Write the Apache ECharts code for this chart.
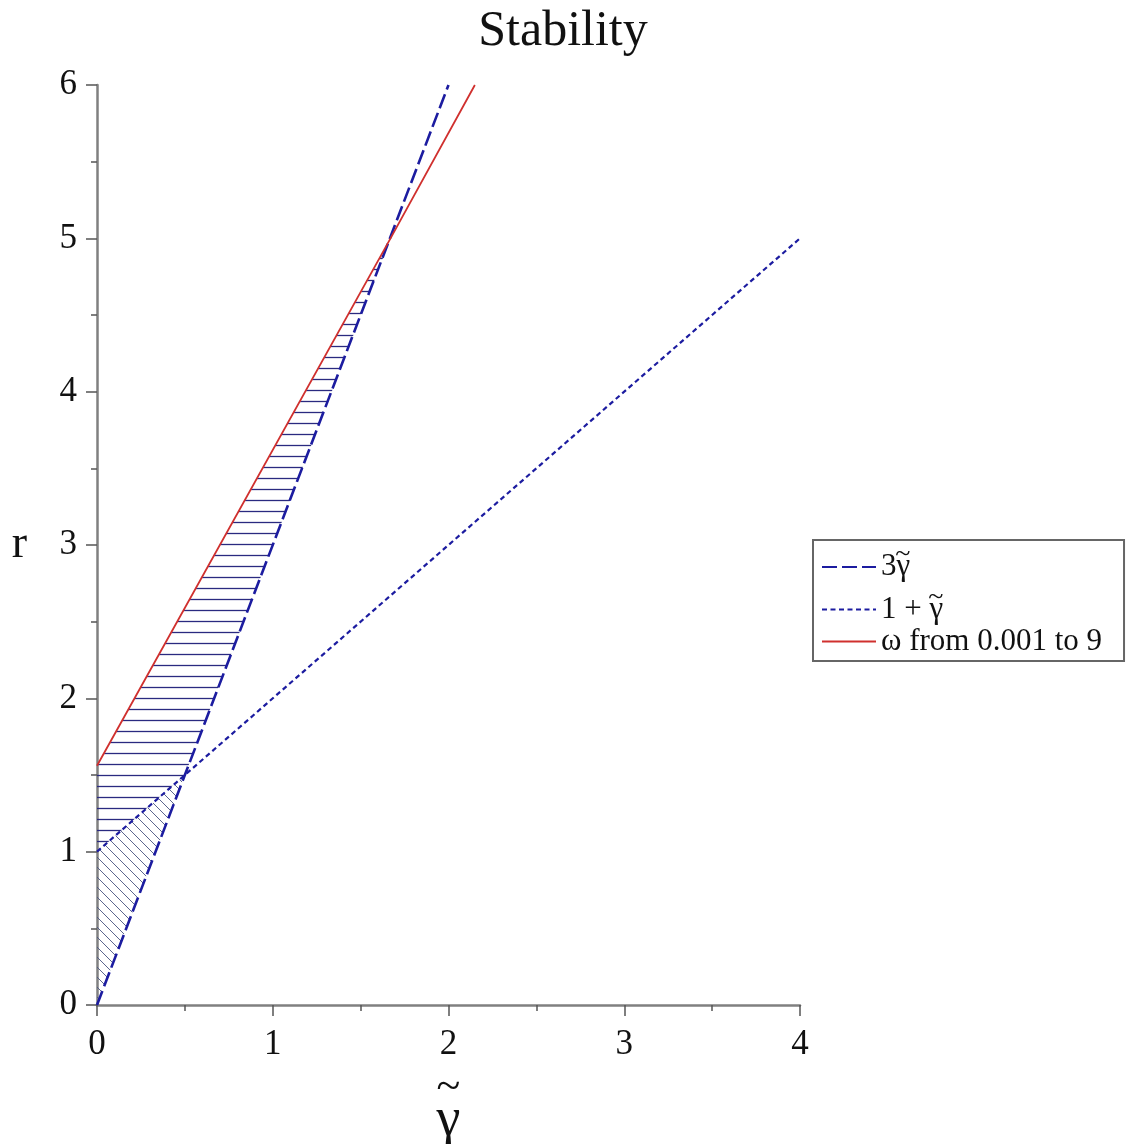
<!DOCTYPE html>
<html>
<head>
<meta charset="utf-8">
<script src="https://cdn.jsdelivr.net/npm/echarts@6/dist/echarts.min.js"></script>
<style>
  html, body { margin: 0; padding: 0; background: #fff; }
  #main { width: 1126px; height: 1144px; }
</style>
</head>
<body>
<div id="main"></div>
<script>
// curves (gamma, r)
const lineThreeGamma = [[0, 0], [2.0, 6.0]];
const lineOnePlusGamma = [[0, 1], [4, 5]];
const lineOmega = [[0, 1.56], [1.67, 5.0], [2.15, 6.0]];

// hatched regions
const regionHoriz = [[0, 1], [0, 1.56], [1.67, 5.0], [0.5, 1.5]];
const regionDiag = [[0, 0], [0, 1], [0.5, 1.5]];

const xTicks = [0, 1, 2, 3, 4];
const yTicks = [0, 1, 2, 3, 4, 5, 6];
const seriesNames = ['3γ', '1 + γ', 'ω from 0.001 to 9'];

const serif = "'Liberation Serif', 'DejaVu Serif', serif";

function makeHatch(kind) {
  const c = document.createElement('canvas');
  const ctx = c.getContext('2d');
  if (kind === 'h') {
    c.width = 8; c.height = 11;
    ctx.strokeStyle = '#2a2a80';
    ctx.lineWidth = 1.3;
    ctx.beginPath();
    ctx.moveTo(0, 5.5); ctx.lineTo(8, 5.5);
    ctx.stroke();
  } else {
    const s = 10;
    c.width = s; c.height = s;
    ctx.strokeStyle = '#4a5580';
    ctx.lineWidth = 0.9;
    ctx.beginPath();
    for (const o of [-s, 0, s]) {
      ctx.moveTo(o - 1, -1); ctx.lineTo(o + s + 1, s + 1);
    }
    ctx.stroke();
  }
  return c;
}

const hatchH = makeHatch('h');
const hatchD = makeHatch('d');

function regionSeries(name, pts, pattern) {
  return {
    name: name,
    type: 'custom',
    silent: true,
    z: 1,
    data: [0],
    renderItem: function (params, api) {
      return {
        type: 'polygon',
        shape: { points: pts.map(p => api.coord(p)) },
        style: { fill: { image: pattern, repeat: 'repeat' }, stroke: null }
      };
    }
  };
}

// tilde token pulled back over the gamma (negative padding) and raised
function legendLabel(name) {
  if (name === seriesNames[2]) return '{m|' + name + '}';
  return '{m|' + name + '}{t|~}';
}

const chart = echarts.init(document.getElementById('main'));

chart.setOption({
  animation: false,
  backgroundColor: '#fff',
  title: {
    text: 'Stability',
    left: 'center',
    top: 2,
    textStyle: { fontFamily: serif, fontSize: 50, fontWeight: 'normal', color: '#111' }
  },
  legend: {
    orient: 'vertical',
    left: 813,
    top: 540,
    padding: [1, 22, 4, 8],
    itemGap: 1,
    itemWidth: 54,
    itemHeight: 22,
    borderColor: '#666',
    borderWidth: 2,
    itemStyle: { opacity: 0 },
    data: seriesNames,
    formatter: legendLabel,
    textStyle: {
      fontFamily: serif, fontSize: 31, color: '#111',
      rich: {
        t: { fontFamily: serif, fontSize: 28, color: '#111', lineHeight: 28, padding: [-12, 0, 12, -15] },
        m: { fontFamily: serif, fontSize: 31, color: '#111', lineHeight: 28 }
      }
    }
  },
  grid: { left: 97, right: 326, top: 85, bottom: 139, outerBoundsMode: 'none' },
  xAxis: {
    type: 'value',
    min: 0,
    max: 4,
    interval: 1,
    name: '{t|~}\n{g|γ}',
    nameLocation: 'middle',
    nameGap: 68,
    nameTextStyle: {
      fontFamily: serif, color: '#111',
      rich: {
        t: { fontFamily: serif, fontSize: 44, lineHeight: 20, color: '#111' },
        g: { fontFamily: serif, fontSize: 54, lineHeight: 44, color: '#111' }
      }
    },
    axisLine: { lineStyle: { color: '#808080', width: 2.5 } },
    axisTick: { length: 11, lineStyle: { color: '#555', width: 1.5 } },
    minorTick: { show: true, splitNumber: 2, length: 6, lineStyle: { color: '#555', width: 1.5 } },
    axisLabel: {
      margin: 22,
      fontFamily: serif, fontSize: 35, color: '#111',
      formatter: v => xTicks.includes(v) ? String(v) : ''
    },
    splitLine: { show: false }
  },
  yAxis: {
    type: 'value',
    min: 0,
    max: 6,
    interval: 1,
    name: 'r',
    nameLocation: 'middle',
    nameRotate: 0,
    nameGap: 70,
    nameTextStyle: { fontFamily: serif, fontSize: 46, color: '#111' },
    axisLine: { show: true, lineStyle: { color: '#808080', width: 2.5 } },
    axisTick: { show: true, length: 11, lineStyle: { color: '#555', width: 1.5 } },
    minorTick: { show: true, splitNumber: 2, length: 6, lineStyle: { color: '#555', width: 1.5 } },
    axisLabel: {
      margin: 20,
      fontFamily: serif, fontSize: 35, color: '#111',
      formatter: v => yTicks.includes(v) ? String(v) : ''
    },
    splitLine: { show: false }
  },
  series: [
    regionSeries('hatchHoriz', regionHoriz, hatchH),
    regionSeries('hatchDiag', regionDiag, hatchD),
    {
      name: seriesNames[0],
      type: 'line',
      data: lineThreeGamma,
      symbol: 'none',
      z: 3,
      lineStyle: { color: '#1c1ca0', width: 2.6, type: [15, 5] },
      itemStyle: { color: '#1c1ca0' }
    },
    {
      name: seriesNames[1],
      type: 'line',
      data: lineOnePlusGamma,
      symbol: 'none',
      z: 3,
      lineStyle: { color: '#1c1ca0', width: 2.2, type: [5, 3.5] },
      itemStyle: { color: '#1c1ca0' }
    },
    {
      name: seriesNames[2],
      type: 'line',
      data: lineOmega,
      symbol: 'none',
      z: 4,
      lineStyle: { color: '#d0302e', width: 1.8 },
      itemStyle: { color: '#d0302e' }
    }
  ]
});
</script>
</body>
</html>
